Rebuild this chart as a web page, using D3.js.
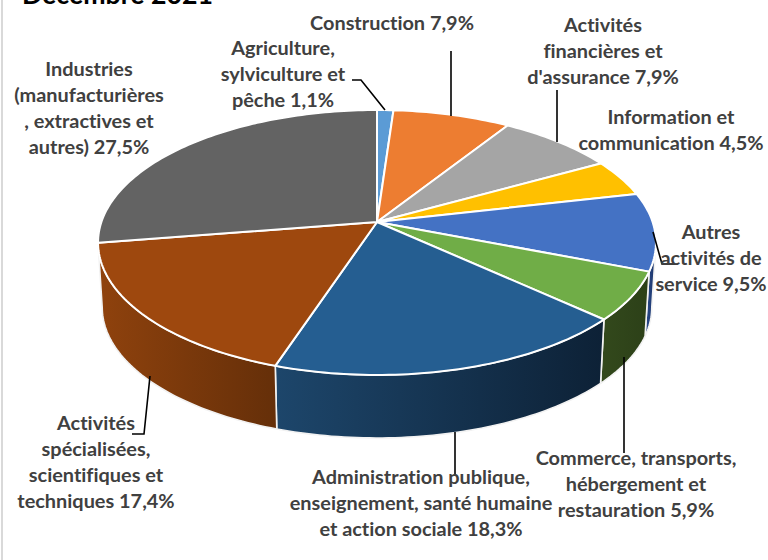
<!DOCTYPE html>
<html lang="fr">
<head>
<meta charset="utf-8">
<script src="https://cdn.jsdelivr.net/npm/d3@7"></script>
<style>
  html, body { margin: 0; padding: 0; background: #fff; }
  svg { display: block; }
  text { font-family: Lato, "Open Sans", sans-serif; font-weight: 700; font-variant-ligatures: none; }
</style>
</head>
<body>
<div id="chart"></div>
<script>
// valeurs, dans le sens horaire depuis le haut
const secteurs = ['Agriculture', 'Construction', 'Finance', 'Information', 'Autres', 'Commerce', 'Administration', 'Specialisees', 'Industries'];
const valeurs = [1.1, 7.9, 7.9, 4.5, 9.5, 5.9, 18.3, 17.4, 27.5];
const etiquettes = [
    ['Agriculture,', 'sylviculture et', 'pêche 1,1%'],
    ['Construction 7,9%'],
    ['Activités', 'financières et', "d'assurance 7,9%"],
    ['Information et', 'communication 4,5%'],
    ['Autres', 'activités de', 'service 9,5%'],
    ['Commerce, transports,', 'hébergement et', 'restauration 5,9%'],
    ['Administration publique,', 'enseignement, santé humaine', 'et action sociale 18,3%'],
    ['Activités', 'spécialisées,', 'scientifiques et', 'techniques 17,4%'],
    ['Industries', '(manufacturières', ', extractives et', 'autres) 27,5%']
];
const titre = 'Décembre 2021';

const couleurs = ['#5B9BD5', '#ED7D31', '#A5A5A5', '#FFC000', '#4472C4', '#70AD47', '#255E91', '#9E480E', '#636363'];
const flancs = {
    Autres: ['#2a4a8e', '#1c3566'],
    Commerce: ['#33491c', '#2c4018'],
    Administration: ['#1d466b', '#0d2136'],
    Specialisees: ['#8f420d', '#652f09']
};

// centre de chaque étiquette et y de la première ligne
const posEtiquettes = [[283, 47], [392, 22], [603, 24], [671, 116], [711, 231], [636, 457], [421, 476], [96, 422], [89, 68]];
const repères = [
    [[352, 80], [361, 80], [385, 110]],
    [[451, 51], [451, 116]],
    [[557, 90], [557, 142]],
    null,
    [[653, 232], [662, 264], [675, 264]],
    [[624, 357], [624, 453]],
    [[455, 432], [455, 475]],
    [[150, 376], [144, 434], [132, 434]],
    null
];

const largura = 768, altura = 560;
const cx = 377, cy = 222;     // sommet du camembert
const A = 275.6, B = 129.3, k = 0.1547;   // perspective
const profondeur = 65.3, reduction = 0.985;
const interligne = 25.9;

const svg = d3.select('#chart').append('svg')
    .attr('width', largura)
    .attr('height', altura)
    .attr('viewBox', `0 0 ${largura} ${altura}`);

const defs = svg.append('defs');

// bord gauche du cadre
svg.append('rect').attr('x', 1).attr('y', 0).attr('width', 2).attr('height', altura).attr('fill', '#d9d9d9');

svg.append('text')
    .attr('x', 22).attr('y', 4)
    .attr('font-size', 26.7).attr('fill', '#000')
    .text(titre);

// angle (horaire depuis le haut) -> point du bord
const bord = (t, bas) => {
    const X = Math.sin(t), Y = -Math.cos(t), w = 1 - k * Y;
    const s = bas ? reduction : 1;
    return [cx + s * A * X / w, cy + (bas ? profondeur : 0) + s * B * Y / w];
};
const arcPoints = (a0, a1, bas) => {
    const n = Math.max(2, Math.ceil((a1 - a0) / 0.02));
    return d3.range(n + 1).map(i => bord(a0 + (a1 - a0) * i / n, bas));
};
const ligne = d3.line();

const pie = d3.pie().sort(null).value(d => d.valeur).startAngle(0).endAngle(2 * Math.PI);
const tranches = pie(secteurs.map((nom, i) => ({ nom, valeur: valeurs[i], couleur: couleurs[i] })));

// limites du flanc visible
const flancDebut = Math.acos(-k), flancFin = 2 * Math.PI - flancDebut;

// flancs
const gFlancs = svg.append('g').attr('class', 'flancs');
tranches.filter(d => flancs[d.data.nom]).forEach(d => {
    const a0 = Math.max(d.startAngle, flancDebut), a1 = Math.min(d.endAngle, flancFin);
    const haut = arcPoints(a0, a1, false), bas = arcPoints(a0, a1, true).reverse();
    const pts = haut.concat(bas);
    const [x0, x1] = d3.extent(pts, p => p[0]);
    const id = 'flanc-' + d.data.nom;
    const grad = defs.append('linearGradient').attr('id', id)
        .attr('gradientUnits', 'userSpaceOnUse')
        .attr('x1', x0).attr('x2', x1).attr('y1', 0).attr('y2', 0);
    const [c0, c1] = flancs[d.data.nom];
    grad.append('stop').attr('offset', 0).attr('stop-color', c0);
    grad.append('stop').attr('offset', 1).attr('stop-color', c1);
    gFlancs.append('path')
        .attr('d', ligne(pts) + 'Z')
        .attr('fill', `url(#${id})`)
        .attr('stroke', '#f2f2f2')
        .attr('stroke-width', 1.6)
        .attr('stroke-linejoin', 'round');
});

// dessus
svg.append('g').attr('class', 'dessus')
    .selectAll('path')
    .data(tranches)
    .enter()
    .append('path')
    .attr('d', d => ligne([[cx, cy]].concat(arcPoints(d.startAngle, d.endAngle, false))) + 'Z')
    .attr('fill', d => d.data.couleur)
    .attr('stroke', '#fff')
    .attr('stroke-width', 2)
    .attr('stroke-linejoin', 'round');

// traits de repère
svg.append('g').attr('class', 'reperes')
    .selectAll('path')
    .data(repères.filter(d => d))
    .enter()
    .append('path')
    .attr('d', d => ligne(d))
    .attr('fill', 'none')
    .attr('stroke', '#000')
    .attr('stroke-width', 1.6);

// étiquettes
const gEtiquettes = svg.append('g').attr('class', 'etiquettes')
    .selectAll('text')
    .data(etiquettes)
    .enter()
    .append('text')
    .attr('text-anchor', 'middle')
    .attr('font-size', 19.9)
    .attr('fill', '#404040')
    .attr('dominant-baseline', 'central');

gEtiquettes.each(function (lignes, i) {
    const [x, y] = posEtiquettes[i];
    d3.select(this).selectAll('tspan')
        .data(lignes)
        .enter()
        .append('tspan')
        .attr('x', x)
        .attr('y', (d, j) => y + j * interligne)
        .text(d => d);
});
</script>
</body>
</html>
